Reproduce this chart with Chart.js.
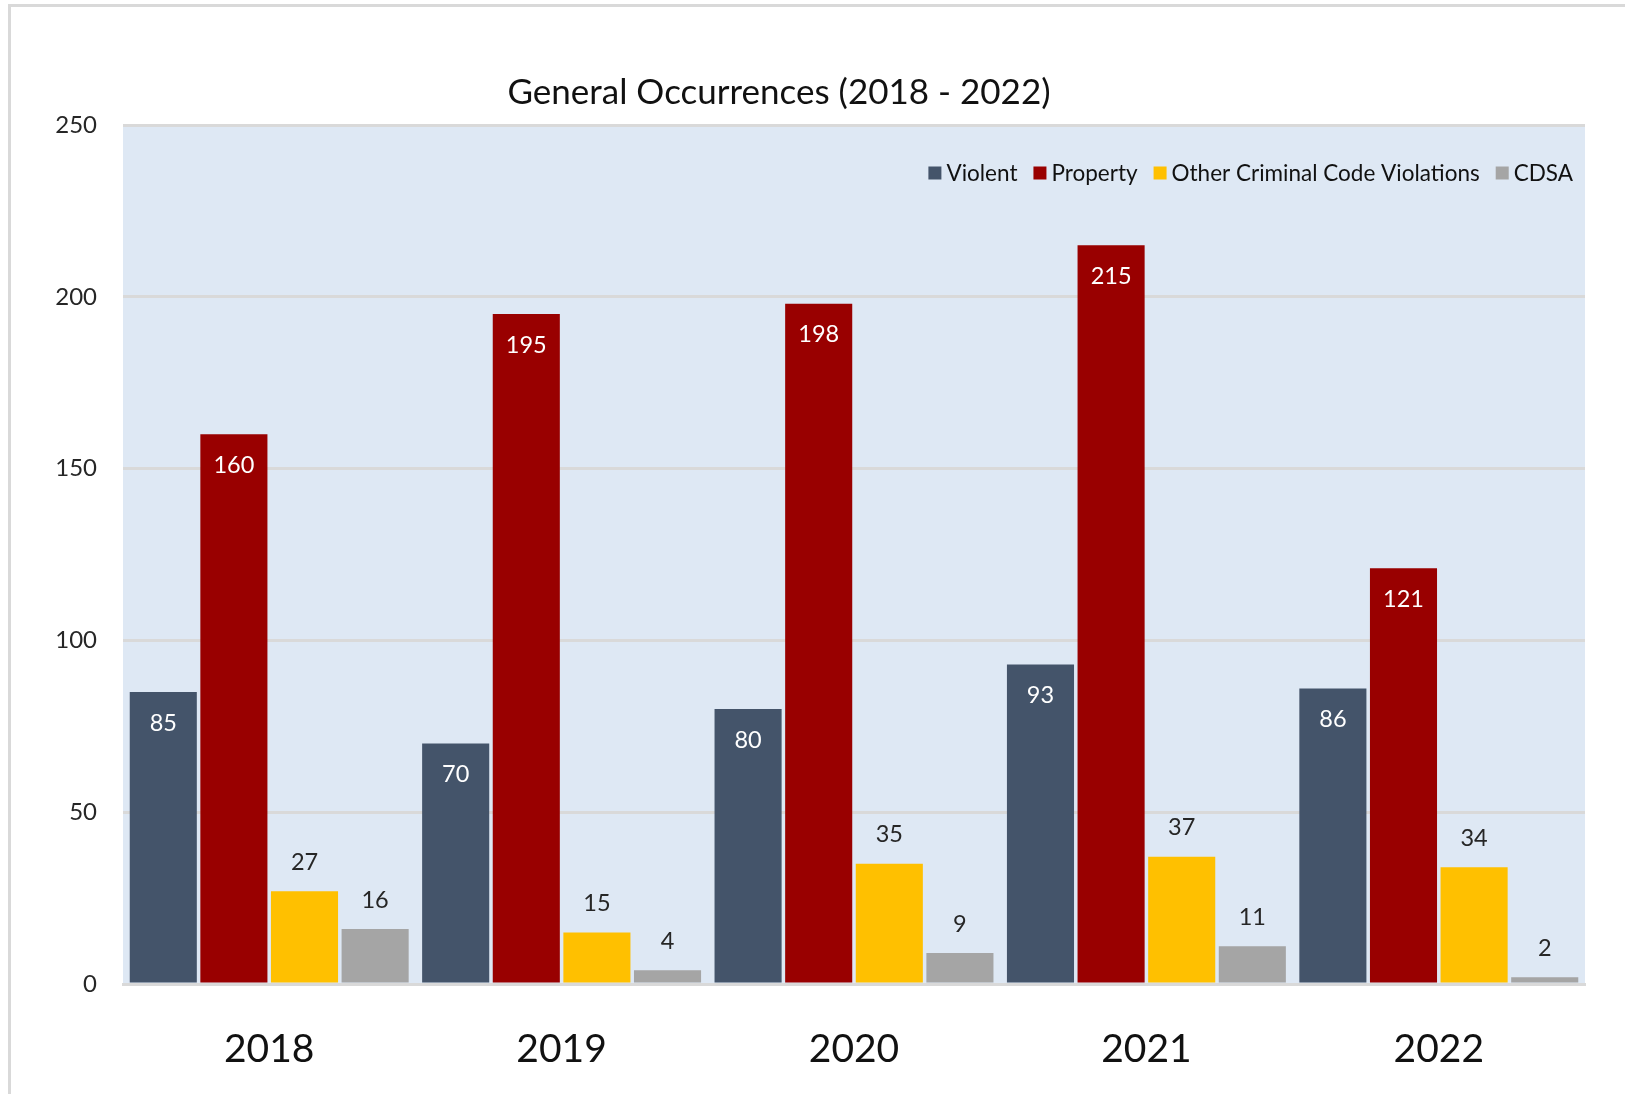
<!DOCTYPE html>
<html>
<head>
<meta charset="utf-8">
<script src="https://cdn.jsdelivr.net/npm/chart.js@4.4.1/dist/chart.umd.min.js"></script>
<style>
  html, body { margin: 0; padding: 0; background: #fff; }
  .frame {
    position: absolute; left: 8px; top: 4px; width: 1700px; height: 1200px;
    border-left: 3px solid #d9d9d9; border-top: 3px solid #d9d9d9;
  }
  .wrap { position: absolute; left: 0; top: 0; width: 1625px; height: 1094px; }
</style>
</head>
<body>
<div class="frame"></div>
<div class="wrap"><canvas id="chart"></canvas></div>
<script>
const years = ["2018", "2019", "2020", "2021", "2022"];
const violent = [85, 70, 80, 93, 86];
const property = [160, 195, 198, 215, 121];
const otherCriminal = [27, 15, 35, 37, 34];
const cdsa = [16, 4, 9, 11, 2];
const yTicks = [0, 50, 100, 150, 200, 250];

const titleText = "General Occurrences (2018 - 2022)";
const fontFamily = "Lato, 'Open Sans', sans-serif";
const plotBackground = "#dee8f4";

// fills the plot area with the light blue
const plotBg = {
  id: "plotBg",
  beforeDraw(chart) {
    const { ctx, chartArea } = chart;
    ctx.save();
    ctx.fillStyle = plotBackground;
    ctx.fillRect(chartArea.left, chartArea.top, chartArea.right - chartArea.left, chartArea.bottom - chartArea.top);
    ctx.restore();
  }
};

// title sits a bit left of the plot centre, like the original
const chartTitle = {
  id: "chartTitle",
  afterDraw(chart) {
    const ctx = chart.ctx;
    ctx.save();
    ctx.font = "35px " + fontFamily;
    ctx.fillStyle = "#111111";
    ctx.textAlign = "center";
    ctx.textBaseline = "middle";
    ctx.fillText(titleText, 779, chart.chartArea.top - 32);
    ctx.restore();
  }
};

// value labels: white inside the big bars, dark above the small ones
const valueLabels = {
  id: "valueLabels",
  afterDatasetsDraw(chart) {
    const ctx = chart.ctx;
    ctx.save();
    ctx.font = "23.5px " + fontFamily;
    ctx.textAlign = "center";
    ctx.textBaseline = "middle";
    chart.data.datasets.forEach((ds, i) => {
      const meta = chart.getDatasetMeta(i);
      meta.data.forEach((bar, j) => {
        const v = ds.data[j];
        if (ds.labelInside) {
          ctx.fillStyle = "#ffffff";
          ctx.fillText(v, bar.x, bar.y + 31);
        } else {
          ctx.fillStyle = "#262626";
          ctx.fillText(v, bar.x, bar.y - 29);
        }
      });
    });
    ctx.restore();
  }
};

// legend sits inside the plot area, top right
const innerLegend = {
  id: "innerLegend",
  afterDraw(chart) {
    const ctx = chart.ctx;
    const area = chart.chartArea;
    ctx.save();
    ctx.font = "22.5px " + fontFamily;
    ctx.textBaseline = "middle";
    const box = 13, gap = 5, spacing = 16;
    const items = chart.data.datasets.map(ds => ({ text: ds.label, color: ds.backgroundColor }));
    let total = 0;
    items.forEach((it, k) => {
      it.w = ctx.measureText(it.text).width;
      total += box + gap + it.w + (k < items.length - 1 ? spacing : 0);
    });
    let x = area.right - 12 - total;
    const y = area.top + 48;
    items.forEach(it => {
      ctx.fillStyle = it.color;
      ctx.fillRect(x, y - box / 2, box, box);
      x += box + gap;
      ctx.fillStyle = "#111111";
      ctx.fillText(it.text, x, y + 1);
      x += it.w + spacing;
    });
    ctx.restore();
  }
};

new Chart(document.getElementById("chart"), {
  type: "bar",
  data: {
    labels: years,
    datasets: [
      { label: "Violent", data: violent, backgroundColor: "#44546a", labelInside: true },
      { label: "Property", data: property, backgroundColor: "#990000", labelInside: true },
      { label: "Other Criminal Code Violations", data: otherCriminal, backgroundColor: "#ffc000", labelInside: false },
      { label: "CDSA", data: cdsa, backgroundColor: "#a5a5a5", labelInside: false }
    ]
  },
  options: {
    responsive: true,
    maintainAspectRatio: false,
    animation: false,
    layout: { padding: { left: 0, right: 40, top: 125, bottom: 20 } },
    datasets: {
      bar: { categoryPercentage: 0.966, barPercentage: 0.95, borderWidth: 0 }
    },
    plugins: {
      legend: { display: false },
      tooltip: { enabled: false },
      title: { display: false }
    },
    scales: {
      x: {
        afterFit(scale) { scale.height = 90; },
        grid: { display: false, drawTicks: false },
        border: { display: true, color: "#d9d9d9", width: 3 },
        ticks: {
          color: "#111111",
          font: { family: fontFamily, size: 39, lineHeight: 1.2 },
          padding: 42
        }
      },
      y: {
        min: 0,
        max: 250,
        afterBuildTicks(scale) {
          scale.ticks = yTicks.map(v => ({ value: v }));
        },
        afterFit(scale) { scale.width = 123; },
        grid: { color: "#d9d9d9", lineWidth: 3, drawTicks: false },
        border: { display: false },
        ticks: {
          color: "#262626",
          font: { family: fontFamily, size: 24 },
          padding: 26
        }
      }
    }
  },
  plugins: [plotBg, chartTitle, valueLabels, innerLegend]
});
</script>
</body>
</html>
